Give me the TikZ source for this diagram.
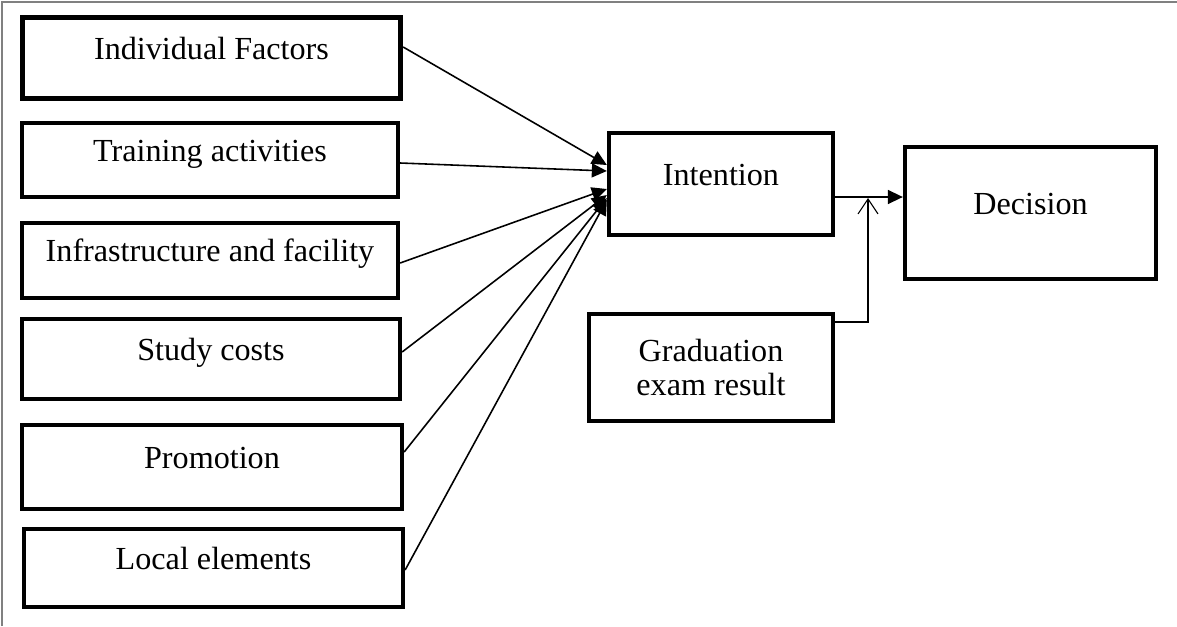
\documentclass[tikz,border=0pt]{standalone}
\usepackage{fontspec}
\setmainfont{Liberation Serif}
\usetikzlibrary{arrows.meta}

\tikzset{
  box/.style={draw, line width=2.2pt, align=center, inner sep=0pt,
    font=\fontsize{18.3}{19.3}\selectfont},
  up/.style={text height=0.7em, text depth=0.55em},
  link/.style={line width=0.9pt, -{Triangle[length=0.3cm,width=0.28cm]}},
  barb/.style={line width=0.6pt, -{Straight Barb[length=0.3cm,width=0.4cm]}}
}

\begin{document}
\begin{tikzpicture}[x=0.02cm, y=-0.02cm]
        \useasboundingbox (0,0) rectangle (1177,626);
        \draw [gray, line width=0.8pt] (2,626) -- (2,2) -- (1177,2);

        \node [box, up, line width=2.8pt, minimum width=7.57cm, minimum height=1.63cm] (ind) at (211.5,58) {Individual Factors};
        \node [box, up, minimum width=7.53cm, minimum height=1.49cm] (train) at (210,160) {Training activities};
        \node [box, up, minimum width=7.53cm, minimum height=1.51cm] (infra) at (210,260.5) {Infrastructure and facility};
        \node [box, up, minimum width=7.57cm, minimum height=1.61cm] (cost) at (211,359) {Study costs};
        \node [box, up, minimum width=7.61cm, minimum height=1.69cm] (promo) at (212,467) {Promotion};
        \node [box, up, minimum width=7.59cm, minimum height=1.57cm] (local) at (213.5,568) {Local elements};

        \node [box, up, minimum width=4.49cm, minimum height=2.05cm] (intent) at (721,184) {Intention};
        \node [box, minimum width=4.89cm, minimum height=2.15cm] (grad) at (711,367.5) {Graduation\\exam result};
        \node [box, up, minimum width=5.03cm, minimum height=2.65cm] (dec) at (1030.5,213) {Decision};

        \draw [link] ([yshift=0.22cm]ind.east) -- ([yshift=0.38cm]intent.west);
        \draw [link] ([yshift=-0.06cm]train.east) -- ([yshift=0.26cm]intent.west);
        \draw [link] ([yshift=-0.05cm]infra.east) -- ([yshift=-0.1cm]intent.west);
        \draw [link] ([yshift=0.14cm]cost.east) -- ([yshift=-0.22cm]intent.west);
        \draw [link] ([yshift=0.3cm]promo.east) -- ([yshift=-0.28cm]intent.west);
        \draw [link] ([yshift=-0.04cm]local.east) -- ([yshift=-0.32cm]intent.west);

        \draw [link] ([yshift=-0.26cm]intent.east) coordinate (j) -- (j -| dec.west);
        \coordinate (m) at (868,198);
        \draw [barb] ([yshift=0.91cm]grad.east) -| (m);
      \end{tikzpicture}
\end{document}
